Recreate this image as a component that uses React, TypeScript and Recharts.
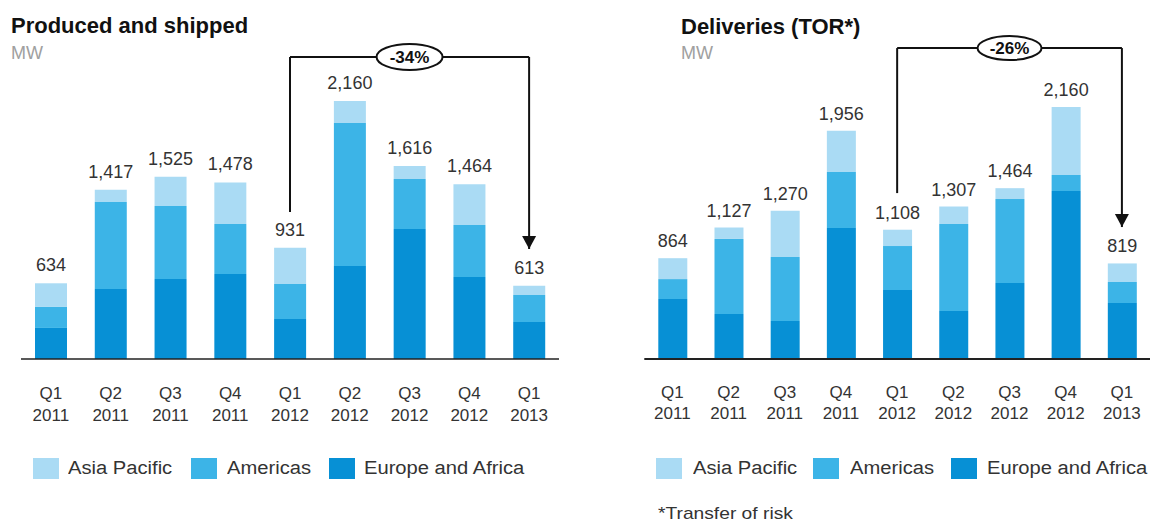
import React from 'react';
import { BarChart, Bar, XAxis, YAxis, LabelList, ReferenceLine, ReferenceDot } from 'recharts';

const categories = ['Q1 2011', 'Q2 2011', 'Q3 2011', 'Q4 2011', 'Q1 2012', 'Q2 2012', 'Q3 2012', 'Q4 2012', 'Q1 2013'];

const producedAsia = [198, 102, 244, 347, 303, 183, 108, 342, 77];
const producedAmericas = [176, 729, 611, 419, 293, 1198, 419, 435, 226];
const producedEurope = [260, 586, 670, 712, 335, 779, 1089, 687, 310];
const producedTotals = [634, 1417, 1525, 1478, 931, 2160, 1616, 1464, 613];

const deliveriesAsia = [179, 98, 395, 353, 140, 150, 93, 583, 159];
const deliveriesAmericas = [171, 643, 549, 480, 377, 746, 720, 137, 180];
const deliveriesEurope = [514, 386, 326, 1123, 591, 411, 651, 1440, 480];
const deliveriesTotals = [864, 1127, 1270, 1956, 1108, 1307, 1464, 2160, 819];

const seriesNames = ['Asia Pacific', 'Americas', 'Europe and Africa'];
const seriesColors = ['#aadbf4', '#3cb4e7', '#0790d5'];

const changeLabels = ['-34%', '-26%'];
const changeFrom = 'Q1 2012';
const changeTo = 'Q1 2013';
const changeMid = 'Q3 2012';

const FONT = '"Liberation Sans", Arial, Helvetica, sans-serif';

const buildRows = (asia: number[], americas: number[], europe: number[], totals: number[]) =>
  categories.map((c, i) => ({ quarter: c, asia: asia[i], americas: americas[i], europe: europe[i], total: totals[i] }));

const producedRows = buildRows(producedAsia, producedAmericas, producedEurope, producedTotals);
const deliveriesRows = buildRows(deliveriesAsia, deliveriesAmericas, deliveriesEurope, deliveriesTotals);

const makeTick = (dy1: number, dy2: number) => (props: any) => {
  const { x, y, payload } = props;
  const [q, yr] = String(payload.value).split(' ');
  return (
    <text x={x} y={y} textAnchor="middle" fontSize={17} fill="#333" fontFamily={FONT}>
      <tspan x={x} dy={dy1}>{q}</tspan>
      <tspan x={x} dy={dy2}>{yr}</tspan>
    </text>
  );
};

const fmt = (v: any) => Number(v).toLocaleString('en-US');

const annotation = (label: string, level: number, legBottom: number, tip: number, rx: number, ry: number) => [
  <ReferenceLine key="l1" segment={[{ x: changeFrom, y: legBottom }, { x: changeFrom, y: level }]} stroke="#111" strokeWidth={2} ifOverflow="visible" />,
  <ReferenceLine key="l2" segment={[{ x: changeFrom, y: level }, { x: changeTo, y: level }]} stroke="#111" strokeWidth={2} ifOverflow="visible" />,
  <ReferenceLine key="l3" segment={[{ x: changeTo, y: level }, { x: changeTo, y: tip }]} stroke="#111" strokeWidth={2} ifOverflow="visible" />,
  <ReferenceDot
    key="d1"
    x={changeTo}
    y={tip}
    ifOverflow="visible"
    shape={(p: any) => (
      <polygon points={`${p.cx - 7},${p.cy - 13} ${p.cx + 7},${p.cy - 13} ${p.cx},${p.cy}`} fill="#111" />
    )}
  />,
  <ReferenceDot
    key="d2"
    x={changeMid}
    y={level}
    ifOverflow="visible"
    shape={(p: any) => (
      <g>
        <ellipse cx={p.cx} cy={p.cy} rx={rx} ry={ry} fill="#fff" stroke="#111" strokeWidth={2} />
        <text x={p.cx} y={p.cy + 6} textAnchor="middle" fontSize={17} fontWeight="bold" fill="#111" fontFamily={FONT}>
          {label}
        </text>
      </g>
    )}
  />,
];

const stretched = { transform: 'scaleX(1.12)', transformOrigin: 'left center' } as const;

const Legend = ({ swatchX, textX }: { swatchX: number[]; textX: number[] }) => (
  <>
    {seriesNames.map((n, i) => (
      <React.Fragment key={n}>
        <div style={{ position: 'absolute', left: swatchX[i], top: 458, width: 26, height: 21, background: seriesColors[i] }} />
        <div style={{ position: 'absolute', left: textX[i], top: 457, fontSize: 18, lineHeight: '22px', color: '#333', fontFamily: FONT, whiteSpace: 'nowrap', ...stretched }}>{n}</div>
      </React.Fragment>
    ))}
  </>
);

const Bars = (offset: number) => [
  <Bar key="eu" dataKey="europe" stackId="a" fill={seriesColors[2]} isAnimationActive={false} />,
  <Bar key="am" dataKey="americas" stackId="a" fill={seriesColors[1]} isAnimationActive={false} />,
  <Bar key="as" dataKey="asia" stackId="a" fill={seriesColors[0]} isAnimationActive={false}>
    <LabelList dataKey="total" position="top" offset={offset} formatter={fmt} fill="#333" fontSize={18} fontFamily={FONT} />
  </Bar>,
];

export default function App() {
  return (
    <div style={{ position: 'absolute', left: 0, top: 0, width: 1150, height: 522, background: '#fff', overflow: 'hidden', fontFamily: FONT }}>
      {/* Left chart */}
      <div style={{ position: 'absolute', left: 11, top: 12, fontSize: 22, fontWeight: 'bold', color: '#111', whiteSpace: 'nowrap', lineHeight: '27px' }}>Produced and shipped</div>
      <div style={{ position: 'absolute', left: 11, top: 42, fontSize: 18, color: '#a0a0a0', lineHeight: '22px' }}>MW</div>
      <div style={{ position: 'absolute', left: 0, top: 0 }}>
        <BarChart width={580} height={440} data={producedRows} barSize={32} margin={{ top: 24.6, right: 21, left: 21, bottom: 21 }}>
          <XAxis dataKey="quarter" axisLine={{ stroke: '#222', strokeWidth: 1.5 }} tickLine={false} tickSize={0} tickMargin={0} height={60} interval={0} tick={makeTick(40, 22)} />
          <YAxis hide domain={[0, 2800]} />
          {Bars(12)}
          {annotation(changeLabels[0], 2529, 1231, 921, 33, 13)}
        </BarChart>
      </div>
      <Legend swatchX={[33, 191, 329]} textX={[68, 227, 364]} />

      {/* Right chart */}
      <div style={{ position: 'absolute', left: 681, top: 13, fontSize: 22, fontWeight: 'bold', color: '#111', whiteSpace: 'nowrap', lineHeight: '27px' }}>Deliveries (TOR*)</div>
      <div style={{ position: 'absolute', left: 681, top: 42, fontSize: 18, color: '#a0a0a0', lineHeight: '22px' }}>MW</div>
      <div style={{ position: 'absolute', left: 600, top: 0 }}>
        <BarChart width={550} height={440} data={deliveriesRows} barSize={29} margin={{ top: 32.3, right: 0, left: 44.3, bottom: 21 }}>
          <XAxis dataKey="quarter" axisLine={{ stroke: '#222', strokeWidth: 2 }} tickLine={false} tickSize={0} tickMargin={0} height={60} interval={0} tick={makeTick(39, 21)} />
          <YAxis hide domain={[0, 2800]} />
          {Bars(11)}
          {annotation(changeLabels[1], 2665, 1422, 1131, 32, 12)}
        </BarChart>
      </div>
      <Legend swatchX={[656, 813, 951]} textX={[693, 850, 987]} />
      <div style={{ position: 'absolute', left: 658, top: 505, fontSize: 17, color: '#333', lineHeight: '17px', whiteSpace: 'nowrap', transform: 'scaleX(1.13)', transformOrigin: 'left center' }}>*Transfer of risk</div>
    </div>
  );
}
